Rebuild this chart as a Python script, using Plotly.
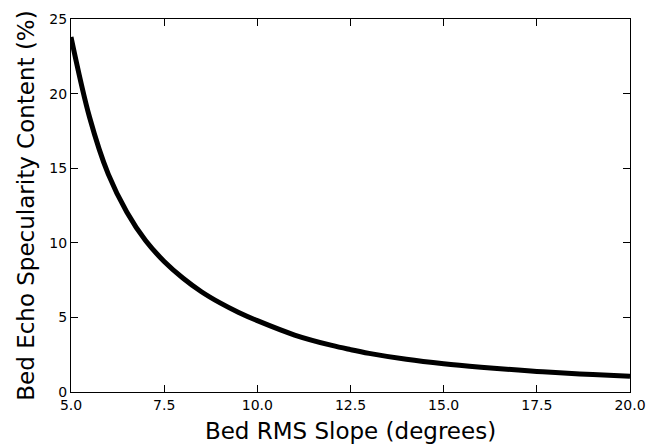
import plotly.graph_objects as go

slope_deg = [5.0, 5.5, 6.0, 6.5, 7.0, 7.5, 8.0, 8.5, 9.0, 9.5, 10.0, 11.0, 12.0, 12.5,
             13.0, 14.0, 15.0, 16.0, 17.0, 17.5, 18.0, 19.0, 20.0]
specularity_pct = [23.8, 18.4, 14.6, 12.05, 10.15, 8.75, 7.64, 6.72, 5.97, 5.33, 4.78, 3.82, 3.12, 2.84,
                   2.59, 2.19, 1.89, 1.66, 1.47, 1.38, 1.3, 1.17, 1.06]
x_ticks = [5.0, 7.5, 10.0, 12.5, 15.0, 17.5, 20.0]
y_ticks = [0, 5, 10, 15, 20, 25]

font = "DejaVu Sans"

fig = go.Figure(go.Scatter(
    x=slope_deg, y=specularity_pct, mode="lines",
    line=dict(color="black", width=5, shape="spline", smoothing=1),
    hoverinfo="skip",
))

axis_common = dict(
    showgrid=False, zeroline=False, mirror="ticks", showline=True, automargin=False,
    linecolor="black", linewidth=1.3, ticks="inside", ticklen=7, tickwidth=1.2,
    tickcolor="black", tickfont=dict(family=font, size=14, color="black"),
)

fig.update_xaxes(
    range=[5, 20], tickvals=x_ticks, tickformat=".1f",
    title=dict(text="Bed RMS Slope (degrees)", font=dict(family=font, size=23, color="black"), standoff=10),
    **axis_common,
)
fig.update_yaxes(
    range=[0, 25], tickvals=y_ticks,
    title=dict(text="Bed Echo Specularity Content (%)", font=dict(family=font, size=23, color="black"), standoff=8),
    **axis_common,
)

fig.update_layout(
    width=650, height=448, showlegend=False,
    paper_bgcolor="white", plot_bgcolor="white",
    margin=dict(l=71, r=20, t=19, b=56),
    font=dict(family=font),
)

# drop the browser's default body margin so the figure sits at the page corner
fig.write_html("out.html", config={"displayModeBar": False},
               post_script="document.body.style.margin='0';")
